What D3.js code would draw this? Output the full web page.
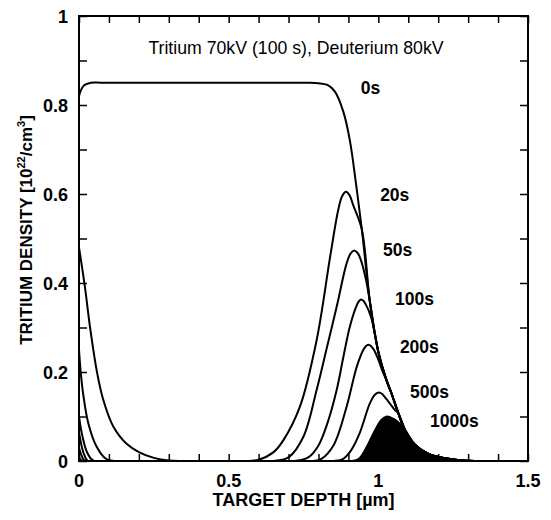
<!DOCTYPE html>
<html>
<head>
<meta charset="utf-8">
<script src="https://cdn.jsdelivr.net/npm/d3@7"></script>
<style>
  body { margin: 0; background: #fff; }
  text { font-family: "Liberation Sans", Arial, sans-serif; fill: #000; }
</style>
</head>
<body>
<svg id="chart" width="551" height="520"></svg>
<script>
// tick labels
const depthTicks = [0, 0.5, 1, 1.5];
const densityTicks = [0, 0.2, 0.4, 0.6, 0.8, 1];
const timeLabels = ['0s', '20s', '50s', '100s', '200s', '500s', '1000s'];

// common falling edge that every profile runs into on the deep side
const envelope = [[0.945, 0.52], [0.972, 0.357], [1.0, 0.245], [1.028, 0.18], [1.045, 0.15],
  [1.067, 0.107], [1.089, 0.07], [1.123, 0.036], [1.167, 0.016], [1.223, 0.006], [1.28, 0.001], [1.35, 0]];

// profiles [depth um, density 1e22/cm3]
const profile0s = [[0, 0.82], [0.015, 0.843], [0.04, 0.85], [0.08, 0.85], [0.3, 0.85], [0.55, 0.85],
  [0.76, 0.85], [0.8, 0.849], [0.83, 0.845], [0.855, 0.83], [0.883, 0.785], [0.905, 0.72], [0.925, 0.625]];
const profile20s = [[0, 0.48], [0.02, 0.39], [0.037, 0.3], [0.06, 0.2], [0.08, 0.14], [0.115, 0.077],
  [0.16, 0.038], [0.2, 0.02], [0.25, 0.007], [0.3, 0.001], [0.35, 0], [0.45, 0], [0.55, 0], [0.6, 0.003],
  [0.65, 0.02], [0.683, 0.047], [0.738, 0.122], [0.794, 0.272], [0.839, 0.459], [0.866, 0.564],
  [0.879, 0.595], [0.892, 0.605], [0.904, 0.597], [0.916, 0.575]];
const profile50s = [[0, 0.25], [0.007, 0.19], [0.014, 0.15], [0.031, 0.085], [0.059, 0.032], [0.09, 0.005],
  [0.12, 0], [0.4, 0], [0.65, 0], [0.7, 0.008], [0.75, 0.055], [0.794, 0.16], [0.83, 0.26], [0.861, 0.347],
  [0.894, 0.444], [0.907, 0.466], [0.919, 0.473], [0.93, 0.468], [0.94, 0.455], [0.958, 0.41]];
const profile100s = [[0, 0.1], [0.01, 0.06], [0.028, 0.018], [0.05, 0], [0.4, 0], [0.72, 0], [0.766, 0.008],
  [0.8, 0.035], [0.83, 0.085], [0.861, 0.16], [0.885, 0.24], [0.905, 0.302], [0.925, 0.345],
  [0.934, 0.358], [0.942, 0.363], [0.95, 0.36], [0.958, 0.352], [0.975, 0.325], [0.99, 0.28]];
const profile200s = [[0, 0.065], [0.01, 0.03], [0.02, 0.01], [0.03, 0], [0.4, 0], [0.78, 0], [0.81, 0.005],
  [0.85, 0.035], [0.894, 0.122], [0.928, 0.212], [0.95, 0.25], [0.958, 0.258], [0.967, 0.261],
  [0.976, 0.258], [0.985, 0.25], [1.0, 0.228], [1.015, 0.2]];
const profile500s = [[0, 0.03], [0.01, 0.01], [0.02, 0], [0.4, 0], [0.85, 0], [0.883, 0.005], [0.91, 0.025],
  [0.939, 0.065], [0.972, 0.13], [0.99, 0.15], [1.002, 0.154], [1.012, 0.151], [1.02, 0.145],
  [1.04, 0.128], [1.055, 0.115]];
const profile1000s = [[0, 0.01], [0.01, 0], [0.4, 0], [0.91, 0], [0.935, 0.005], [0.956, 0.025], [0.99, 0.07],
  [1.01, 0.092], [1.028, 0.1], [1.05, 0.095], [1.07, 0.085]];

const profiles = [profile0s, profile20s, profile50s, profile100s, profile200s, profile500s, profile1000s];

// where the time labels sit, in data units (left edge, baseline)
const labelAt = [[0.941, 0.825], [1.006, 0.584], [1.016, 0.461], [1.056, 0.351], [1.072, 0.243], [1.106, 0.142], [1.173, 0.076]];

const svg = d3.select('#chart');
const margin = {left: 79, right: 23, top: 16, bottom: 59};
const width = 551 - margin.left - margin.right;
const height = 520 - margin.top - margin.bottom;

const x = d3.scaleLinear().domain([0, 1.5]).range([margin.left, margin.left + width]);
const y = d3.scaleLinear().domain([0, 1]).range([margin.top + height, margin.top]);

svg.append('clipPath')
  .attr('id', 'plot-clip')
  .append('rect')
  .attr('x', x(0))
  .attr('y', y(1))
  .attr('width', x(1.5) - x(0))
  .attr('height', y(0) - y(1));

// join each profile with the rest of the envelope
function fullProfile(p) {
  const last = p[p.length - 1][0];
  return p.concat(envelope.filter(d => d[0] > last + 0.005));
}

const line = d3.line()
  .x(d => x(d[0]))
  .y(d => y(d[1]))
  .curve(d3.curveCatmullRom.alpha(0.5));

const area = d3.area()
  .x(d => x(d[0]))
  .y0(y(0))
  .y1(d => y(d[1]))
  .curve(d3.curveCatmullRom.alpha(0.5));

const plot = svg.append('g').attr('clip-path', 'url(#plot-clip)');

// filled 1000s profile
plot.append('path')
  .datum(fullProfile(profile1000s))
  .attr('d', area)
  .attr('fill', '#000');

plot.selectAll('path.profile')
  .data(profiles.map(fullProfile))
  .join('path')
  .attr('class', 'profile')
  .attr('d', line)
  .attr('fill', 'none')
  .attr('stroke', '#000')
  .attr('stroke-width', 2)
  .attr('stroke-linejoin', 'round');

// axes, ticks pointing inward on all four sides
const minorX = d3.range(0, 1.51, 0.1);
const minorY = d3.range(0, 1.01, 0.1);

svg.append('g')
  .attr('transform', `translate(0,${y(0)})`)
  .call(d3.axisBottom(x).tickValues(minorX).tickSize(-7).tickFormat(''))
  .call(g => g.select('.domain').remove());
svg.append('g')
  .attr('transform', `translate(0,${y(1)})`)
  .call(d3.axisTop(x).tickValues(minorX).tickSize(-7).tickFormat(''))
  .call(g => g.select('.domain').remove());
svg.append('g')
  .attr('transform', `translate(${x(0)},0)`)
  .call(d3.axisLeft(y).tickValues(minorY).tickSize(-8).tickFormat(''))
  .call(g => g.select('.domain').remove());
svg.append('g')
  .attr('transform', `translate(${x(1.5)},0)`)
  .call(d3.axisRight(y).tickValues(minorY).tickSize(-8).tickFormat(''))
  .call(g => g.select('.domain').remove());

svg.selectAll('.tick line').attr('stroke', '#000').attr('stroke-width', 1.5);

svg.append('rect')
  .attr('x', x(0))
  .attr('y', y(1))
  .attr('width', x(1.5) - x(0))
  .attr('height', y(0) - y(1))
  .attr('fill', 'none')
  .attr('stroke', '#000')
  .attr('stroke-width', 2);

// tick labels
svg.selectAll('text.xlab')
  .data(depthTicks)
  .join('text')
  .attr('class', 'xlab')
  .attr('x', d => x(d))
  .attr('y', 487)
  .attr('text-anchor', 'middle')
  .attr('font-size', 18)
  .attr('font-weight', 'bold')
  .text(d => d);

svg.selectAll('text.ylab')
  .data(densityTicks)
  .join('text')
  .attr('class', 'ylab')
  .attr('x', 68)
  .attr('y', d => y(d) + 6.5)
  .attr('text-anchor', 'end')
  .attr('font-size', 18)
  .attr('font-weight', 'bold')
  .text(d => d);

// time labels
svg.selectAll('text.time')
  .data(timeLabels)
  .join('text')
  .attr('class', 'time')
  .attr('x', (d, i) => x(labelAt[i][0]))
  .attr('y', (d, i) => y(labelAt[i][1]))
  .attr('font-size', 17.5)
  .attr('font-weight', 'bold')
  .text(d => d);

svg.append('text')
  .attr('x', 296)
  .attr('y', 54)
  .attr('text-anchor', 'middle')
  .attr('font-size', 17.7)
  .text('Tritium 70kV (100 s), Deuterium 80kV');

svg.append('text')
  .attr('x', x(0.75))
  .attr('y', 506)
  .attr('text-anchor', 'middle')
  .attr('font-size', 18)
  .attr('font-weight', 'bold')
  .text('TARGET DEPTH [\u00b5m]');

const ytitle = svg.append('text')
  .attr('transform', 'translate(32,230) rotate(-90)')
  .attr('text-anchor', 'middle')
  .attr('font-size', 17)
  .attr('font-weight', 'bold');
ytitle.append('tspan').text('TRITIUM DENSITY [10');
ytitle.append('tspan').attr('font-size', 11).attr('dy', -7).text('22');
ytitle.append('tspan').attr('dy', 7).text('/cm');
ytitle.append('tspan').attr('font-size', 11).attr('dy', -7).text('3');
ytitle.append('tspan').attr('dy', 7).text(']');
</script>
</body>
</html>
